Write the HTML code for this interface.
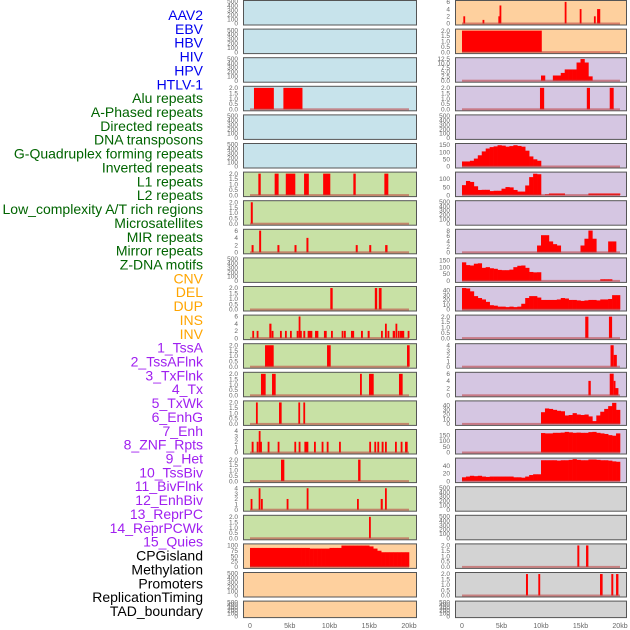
<!DOCTYPE html>
<html><head><meta charset="utf-8"><style>
html,body{margin:0;padding:0;background:#fff;}
svg{display:block;font-family:"Liberation Sans",sans-serif;}
</style></head><body>
<svg id="chart" width="630" height="630" viewBox="0 0 630 630" xmlns="http://www.w3.org/2000/svg"></svg>
<script>
// ---- data: track labels ----
const trackLabels=["AAV2","EBV","HBV","HIV","HPV","HTLV-1","Alu repeats","A-Phased repeats","Directed repeats","DNA transposons","G-Quadruplex forming repeats","Inverted repeats","L1 repeats","L2 repeats","Low_complexity A/T rich regions","Microsatellites","MIR repeats","Mirror repeats","Z-DNA motifs","CNV","DEL","DUP","INS","INV","1_TssA","2_TssAFlnk","3_TxFlnk","4_Tx","5_TxWk","6_EnhG","7_Enh","8_ZNF_Rpts","9_Het","10_TssBiv","11_BivFlnk","12_EnhBiv","13_ReprPC","14_ReprPCWk","15_Quies","CPGisland","Methylation","Promoters","ReplicationTiming","TAD_boundary"];
const xTickValues=[0,5,10,15,20];
const xTickLabels=["0","5kb","10kb","15kb","20kb"];
// ---- spike tracks (kb start, kb end, value) ----
const hiv_start=[0.5,4.2], hiv_end=[3.0,6.6], hiv_val=[2,2];
const alu_start=[1.05,3.1,4.5,6.8,9.2,13.0,16.9], alu_end=[1.35,3.6,5.7,7.4,10.1,13.3,17.4], alu_val=[2,2,2,2,2,2,2];
const aphased_start=[0.1], aphased_end=[0.35], aphased_val=[2];
const directed_start=[0.2,1.15,3.45,5.6,7.1,13.3,15.0,17.0], directed_end=[0.45,1.4,3.7,5.85,7.35,13.55,15.25,17.3], directed_val=[2,6,2,2,4,2,2,2];
const gquad_start=[10.1,15.7,16.2], gquad_end=[10.4,16.0,16.55], gquad_val=[2,2,2];
const inverted_start=[0.29,0.84,2.43,2.73,3.77,4.4,5.03,5.87,6.12,6.29,6.71,7.25,8.18,9.3,10.19,11.53,11.82,12.7,13.96,14.8,16.48,16.98,17.3,17.95,18.3,18.6,18.87,19.83];
const inverted_end=[0.5,1.05,2.7,2.95,4.0,4.62,5.25,6.1,6.3,6.5,6.95,7.84,8.6,9.65,10.42,11.75,12.05,13.1,14.2,15.05,16.7,17.2,17.52,18.24,18.52,18.82,19.4,20.05];
const inverted_val=[2,2,4,2,2,2,2,2,6,2,2,2,2,2,2,2,2,2,2,2,2,4,2,2,4,2,2,2];
const l1_start=[1.89,9.69,19.75], l1_end=[2.98,10.15,20.08], l1_val=[2,2,2];
const l2_start=[1.38,2.77,13.84,14.97,18.74], l2_end=[1.97,3.23,14.05,15.56,19.2], l2_val=[2,2,2,2,2];
const lowc_start=[0.75,3.65,6.08,6.71], lowc_end=[0.97,3.98,6.29,6.92], lowc_val=[2,2,2,2];
const micro_start=[0.21,0.84,1.1,1.26,2.22,3.48,5.58,6.12,6.84,8.05,9.01,9.65,11.2,15.0,15.64,16.02,16.56,16.98,18.24,18.95,19.5];
const micro_end=[0.45,1.05,1.3,1.5,2.45,3.7,5.8,6.35,7.34,8.28,9.24,9.88,11.42,15.22,15.86,16.25,16.8,17.19,18.46,19.18,19.83];
const micro_val=[2,2,4,2,2,2,2,2,2,2,2,2,2,2,2,2,2,2,2,2,2];
const mir_start=[3.9,13.6], mir_end=[4.32,13.9], mir_val=[2,2];
const mirror_start=[0.08,1.09,1.38,4.61,7.13,13.46,16.44,16.98], mirror_end=[0.3,1.3,1.6,4.84,7.36,13.68,16.7,17.2], mirror_val=[2,4,2,2,4,2,2,4];
const zdna_start=[14.97], zdna_end=[15.18], zdna_val=[2];
const ins_start=[0.17,2.6,4.6,4.75,13.0,14.9,16.7,17.1], ins_end=[0.4,2.82,4.75,4.96,13.2,15.1,16.9,17.5], ins_val=[2,1,2,5,6,4,2,4];
const inv_start=[0], inv_end=[10.1], inv_val=[2];
const tssaflnk_start=[9.87,15.8,18.7], tssaflnk_end=[10.4,16.2,19.2], tssaflnk_val=[2,2,2];
const tssbiv_start=[15.6,18.6], tssbiv_end=[16.0,19.0], tssbiv_val=[2,2];
const bivflnk_start=[18.8,19.2], bivflnk_end=[19.2,19.6], bivflnk_val=[4,2.2];
const enhbiv_start=[16.0,18.7,19.2,19.4], enhbiv_end=[16.3,19.2,19.4,19.8], enhbiv_val=[4,6,4,2];
const promoters_start=[14.6,15.7], promoters_end=[14.85,16.0], promoters_val=[2,2];
const reptiming_start=[8.1,9.66,17.47,18.9,19.5], reptiming_end=[8.35,9.9,17.8,19.15,19.8], reptiming_val=[2,2,2,2,2];
const zeroMark_start=[], zeroMark_end=[], zeroMark_val=[];
// ---- profile tracks (40 bins of 0.5 kb) ----
const cnv_bins=[88,88,88,88,88,88,88,88,88,88,88,88,88,88,88,85,85,85,85,85,88,88,88,99,99,99,99,99,99,99,95,85,75,68,68,68,68,68,68,68];
const tssa_bins=[0,0,0,0,0,0,0,0,0,0,0,0,0,0,0,0,0,0,0,0,3,0,0,3,3,4.5,6.5,6.5,6.5,10.5,12.5,10.5,2.5,0,0,0,0,0,0,0];
const tx_bins=[35,35,40,55,78,105,125,135,140,148,145,138,142,148,143,138,110,70,50,40,0,0,0,0,0,0,0,0,0,0,0,0,0,0,0,0,0,0,0,0];
const txwk_bins=[62,88,82,55,32,33,33,25,27,27,40,50,48,32,22,22,60,112,133,130,0,5,10,10,10,10,0,0,0,0,0,0,10,10,10,10,10,10,10,10];
const enh_bins=[0,0,0,0,0,0,0,0,0,0,0,0,0,0,0,0,0,0,0,2.5,6.3,6.3,4,3,2.5,0,0,0,0,0,2.5,5,8,5,0,0,0,4,4,0];
const znf_bins=[135,115,112,125,128,95,100,92,88,80,78,78,82,100,110,112,95,65,62,63,0,0,0,0,0,0,0,0,0,0,0,0,0,0,0,12,12,12,0,0];
const het_bins=[45,44,38,28,24,21,16,9,8,6,6,5,6,5,6,12,24,28,28,25,20,20,20,20,21,24,23,20,20,19,18,19,20,20,19,21,21,22,30,30];
const reprpc_bins=[0,0,0,0,0,0,0,0,0,0,0,0,0,0,0,0,0,0,0,0,25,33,32,30,28,27,18,19,23,20,19,20,16,6,18,26,32,38,45,30];
const reprpcwk_bins=[0,0,0,0,0,0,0,0,0,0,0,0,0,0,0,0,0,0,0,0,168,165,165,170,170,172,178,174,170,172,170,170,176,178,170,165,160,150,145,165];
const quies_bins=[10,12,14,13,14,12,11,12,12,12,12,12,12,10,10,9,12,16,18,18,55,55,55,55,54,55,55,56,58,56,55,55,57,57,56,55,55,54,52,51];

const T2=[0,0.5,1,1.5,2], T500=[0,100,200,300,400,500];
// name, column, row, background, ymax, ticks, type, data
const panels=[
["aav2",0,0,"b",500,T500,"e"],["ebv",0,1,"b",500,T500,"e"],["hbv",0,2,"b",500,T500,"e"],
["hiv",0,3,"b",2.05,T2,"s",[hiv_start,hiv_end,hiv_val]],
["hpv",0,4,"b",500,T500,"e"],["htlv1",0,5,"b",500,T500,"e"],
["alu",0,6,"g",2.05,T2,"s",[alu_start,alu_end,alu_val]],
["aphased",0,7,"g",2.05,T2,"s",[aphased_start,aphased_end,aphased_val]],
["directed",0,8,"g",6.1,[0,2,4,6],"s",[directed_start,directed_end,directed_val]],
["dna-transposons",0,9,"g",500,T500,"e"],
["gquad",0,10,"g",2.05,T2,"s",[gquad_start,gquad_end,gquad_val]],
["inverted",0,11,"g",6.1,[0,2,4,6],"s",[inverted_start,inverted_end,inverted_val]],
["l1",0,12,"g",2.05,T2,"s",[l1_start,l1_end,l1_val]],
["l2",0,13,"g",2.05,T2,"s",[l2_start,l2_end,l2_val]],
["low-complexity",0,14,"g",2.05,T2,"s",[lowc_start,lowc_end,lowc_val]],
["microsatellites",0,15,"g",4.1,[0,1,2,3,4],"s",[micro_start,micro_end,micro_val]],
["mir",0,16,"g",2.05,T2,"s",[mir_start,mir_end,mir_val]],
["mirror",0,17,"g",4.1,[0,1,2,3,4],"s",[mirror_start,mirror_end,mirror_val]],
["zdna",0,18,"g",2.05,T2,"s",[zdna_start,zdna_end,zdna_val]],
["cnv",0,19,"o",102,[0,25,50,75,100],"p",cnv_bins],
["del",0,20,"o",500,T500,"e"],["dup",0,21,"o",500,T500,"e"],
["ins",1,0,"o",6.1,[0,2,4,6],"s",[ins_start,ins_end,ins_val]],
["inv",1,1,"o",2.05,T2,"s",[inv_start,inv_end,inv_val]],
["tssa",1,2,"p",12.7,[0,2.5,5,7.5,10,12.5],"p",tssa_bins],
["tssaflnk",1,3,"p",2.05,T2,"s",[tssaflnk_start,tssaflnk_end,tssaflnk_val]],
["txflnk",1,4,"p",500,T500,"e"],
["tx",1,5,"p",153,[0,50,100,150],"p",tx_bins],
["txwk",1,6,"p",137,[0,50,100],"p",txwk_bins],
["enhg",1,7,"p",500,T500,"e"],
["enh",1,8,"p",8.1,[0,2,4,6,8],"p",enh_bins],
["znf",1,9,"p",160,[0,50,100,150],"p",znf_bins],
["het",1,10,"p",46,[0,10,20,30,40],"p",het_bins],
["tssbiv",1,11,"p",2.05,T2,"s",[tssbiv_start,tssbiv_end,tssbiv_val]],
["bivflnk",1,12,"p",4.1,[0,1,2,3,4],"s",[bivflnk_start,bivflnk_end,bivflnk_val]],
["enhbiv",1,13,"p",6.1,[0,2,4,6],"s",[enhbiv_start,enhbiv_end,enhbiv_val]],
["reprpc",1,14,"p",47,[0,10,20,30,40],"p",reprpc_bins],
["reprpcwk",1,15,"p",190,[0,50,100,150],"p",reprpcwk_bins],
["quies",1,16,"p",58,[0,20,40],"p",quies_bins],
["cpgisland",1,17,"k",500,T500,"e"],["methylation",1,18,"k",500,T500,"e"],
["promoters",1,19,"k",2.05,T2,"s",[promoters_start,promoters_end,promoters_val]],
["replication-timing",1,20,"k",2.05,T2,"s",[reptiming_start,reptiming_end,reptiming_val]],
["tad-boundary",1,21,"k",500,T500,"e"]
];
const BG={b:"#c7e3eb",g:"#c8e1a5",o:"#fed09e",p:"#d5c6e2",k:"#d3d3d3"};
const LCOL=["#0000ee","#006400","#ffa500","#a020f0","#000000"];
function labelColor(i){return i<6?LCOL[0]:i<19?LCOL[1]:i<24?LCOL[2]:i<39?LCOL[3]:LCOL[4];}

const NS="http://www.w3.org/2000/svg";
const svg=document.getElementById("chart");
function mk(tag,attrs,parent){const e=document.createElementNS(NS,tag);for(const k in attrs)e.setAttribute(k,attrs[k]);(parent||svg).appendChild(e);return e;}
const COLX=[[243,416,250,409],[455,626,462,620]];
function xScale(col,kb){const c=COLX[col];return c[2]+(c[3]-c[2])*kb/20;}
function rowTop(r){return 0.5+28.6*r;}
function rowH(r){return r===21?16.5:24.5;}
function fmt(v,ticks){const dec=ticks.some(t=>t%1!==0);return dec?v.toFixed(1):String(v);}

// labels
trackLabels.forEach((t,i)=>{
  const e=mk("text",{x:203,y:15+13.86*i+5,"text-anchor":"end","font-size":"14",fill:labelColor(i)});
  e.textContent=t;
  
  
});

panels.forEach(p=>{
  const [name,col,row,bg,ymax,ticks,type,data]=p;
  const g=mk("g",{});
  
  
  const c=COLX[col], top=rowTop(row), h=rowH(row);
  const y0=top+h-1.5, yTop=top+1;
  const yS=v=>y0-(y0-yTop)*v/ymax;
  const bgR=mk("rect",{x:c[0]+0.5,y:top,width:c[1]-c[0],height:h,fill:BG[bg],stroke:"#555","stroke-width":"1"},g);
  
  
  ticks.forEach(t=>{
    const tx=mk("text",{x:c[0]-5,y:yS(t)+2.2,"text-anchor":"end","font-size":"6.5",fill:"#666"},g);
    tx.textContent=fmt(t,ticks);
    
    
  });
  if(type==="s"){
    const [st,en,va]=data;
    for(let i=0;i<st.length;i++){
      const x1=xScale(col,st[i]), x2=xScale(col,en[i]);
      const b=mk("rect",{x:x1,y:yS(va[i]),width:Math.max(1.8,x2-x1),height:y0-yS(va[i]),fill:"#ff0000"},g);
      
      
    }
  } else if(type==="p"){
    data.forEach((v,i)=>{
      if(v<=0)return;
      const x1=xScale(col,i*0.5), x2=xScale(col,i*0.5+0.5);
      const b=mk("rect",{x:x1,y:yS(v),width:x2-x1+0.3,height:y0-yS(v),fill:"#ff0000"},g);
      
      
    });
  }
  if(type!=="e"){
    const bl=mk("rect",{x:xScale(col,0),y:y0-1,width:xScale(col,20)-xScale(col,0),height:2,fill:"rgba(190,60,60,0.55)"},g);
    
    
  }
});

// x axes
[0,1].forEach(col=>{
  xTickValues.forEach((v,i)=>{
    const t=mk("text",{x:xScale(col,v),y:628,"text-anchor":"middle","font-size":"7",fill:"#666"});
    t.textContent=xTickLabels[i];
    
    
  });
});
</script>
</body></html>
